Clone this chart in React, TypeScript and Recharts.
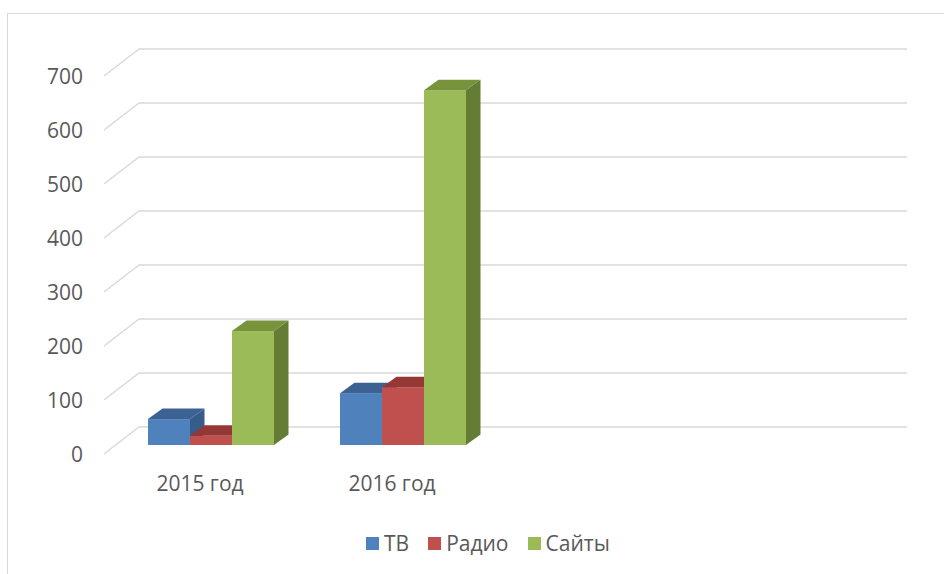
import React from 'react';
import { BarChart, Bar, XAxis, YAxis, CartesianGrid, Legend } from 'recharts';

const categories = ['2015 год', '2016 год', '', ''];
const tvValues = [48, 96, null, null];
const radioValues = [17, 107, null, null];
const siteValues = [211, 657, null, null];
const yTicks = [0, 100, 200, 300, 400, 500, 600, 700];

const seriesKeys = ['tv', 'radio', 'sites'];
const seriesNames = { tv: 'ТВ', radio: 'Радио', sites: 'Сайты' };

const data = categories.map((name, i) => ({
  name,
  tv: tvValues[i],
  radio: radioValues[i],
  sites: siteValues[i],
}));

const FONT = '"Open Sans", "Noto Sans", sans-serif';
const TEXT = '#595959';
const GRID = '#d9d9d9';

// oblique projection offsets relative to the bar-front plane
const BACK_DX = 23.5;
const BACK_DY = -18;
const FRONT_DX = -11.5;
const FRONT_DY = 9;
const BAR_DX = 14.5;
const BAR_DY = -10.5;

const makeShape = (dataKey: string, top: string, side: string) => (props: any) => {
  const { x, y, width, height, fill, payload } = props;
  if (!payload || payload[dataKey] == null) return <g />;
  const x2 = x + width;
  const y2 = y + height;
  return (
    <g>
      <rect x={x} y={y} width={width} height={height} fill={fill} />
      <polygon
        points={`${x},${y} ${x + BAR_DX},${y + BAR_DY} ${x2 + BAR_DX},${y + BAR_DY} ${x2},${y}`}
        fill={top}
      />
      <polygon
        points={`${x2},${y} ${x2 + BAR_DX},${y + BAR_DY} ${x2 + BAR_DX},${y2 + BAR_DY} ${x2},${y2}`}
        fill={side}
      />
    </g>
  );
};

const gridLine = (props: any) => {
  const { x1, x2, y1, index } = props;
  return (
    <g key={`grid-${index}-${y1}`}>
      <line
        x1={x1 + FRONT_DX}
        y1={y1 + FRONT_DY}
        x2={x1 + BACK_DX}
        y2={y1 + BACK_DY}
        stroke={GRID}
        strokeWidth={1.5}
      />
      <line
        x1={x1 + BACK_DX}
        y1={y1 + BACK_DY}
        x2={x2 + BACK_DX}
        y2={y1 + BACK_DY}
        stroke={GRID}
        strokeWidth={1.5}
      />
    </g>
  );
};

const YTick = (props: any) => {
  const { y, payload } = props;
  return (
    <text x={83} y={y + FRONT_DY + 8} textAnchor="end" fill={TEXT} fontFamily={FONT} fontSize={21}>
      {payload.value}
    </text>
  );
};

const XTick = (props: any) => {
  const { x, payload } = props;
  if (!payload.value) return <g />;
  return (
    <text x={x + FRONT_DX} y={491} textAnchor="middle" fill={TEXT} fontFamily={FONT} fontSize={21}>
      {payload.value}
    </text>
  );
};

const LegendContent = (props: any) => {
  const payload = [...(props.payload || [])].sort(
    (a: any, b: any) => seriesKeys.indexOf(a.dataKey) - seriesKeys.indexOf(b.dataKey)
  );
  return (
    <div
      style={{
        display: 'flex',
        alignItems: 'center',
        fontFamily: FONT,
        fontSize: 21,
        lineHeight: '26px',
        color: TEXT,
        whiteSpace: 'nowrap',
      }}
    >
      {payload.map((p: any) => (
        <span key={p.value} style={{ display: 'flex', alignItems: 'center', marginRight: 19 }}>
          <span style={{ display: 'inline-block', width: 13, height: 13, background: p.color, marginRight: 5 }} />
          {p.value}
        </span>
      ))}
    </div>
  );
};

export default function App() {
  return (
    <div
      style={{
        position: 'absolute',
        left: 0,
        top: 0,
        width: 944,
        height: 574,
        overflow: 'hidden',
        background: '#ffffff',
      }}
    >
      <div
        style={{
          position: 'absolute',
          left: 7,
          top: 13,
          width: 1200,
          height: 1200,
          border: '1.5px solid #d9d9d9',
          boxSizing: 'border-box',
        }}
      />
      <BarChart
        width={944}
        height={574}
        data={data}
        margin={{ top: 67, right: 60.5, bottom: 89, left: 55.5 }}
        barCategoryGap={32.5}
        barGap={0}
      >
        <CartesianGrid vertical={false} horizontal={gridLine} stroke={GRID} />
        <XAxis
          dataKey="name"
          height={40}
          axisLine={false}
          tickLine={false}
          tick={XTick}
          interval={0}
        />
        <YAxis
          width={60}
          domain={[0, 700]}
          ticks={yTicks}
          axisLine={false}
          tickLine={false}
          tick={YTick}
          interval={0}
        />
        <Legend
          layout="horizontal"
          verticalAlign="middle"
          align="center"
          wrapperStyle={{ left: 366, top: 530, width: 400, height: 26 }}
          content={LegendContent}
        />
        <Bar
          dataKey="tv"
          name={seriesNames.tv}
          fill="#4F81BD"
          isAnimationActive={false}
          shape={makeShape('tv', '#3C6294', '#365D8A')}
        />
        <Bar
          dataKey="radio"
          name={seriesNames.radio}
          fill="#C0504D"
          isAnimationActive={false}
          shape={makeShape('radio', '#953735', '#8C3331')}
        />
        <Bar
          dataKey="sites"
          name={seriesNames.sites}
          fill="#9BBB59"
          isAnimationActive={false}
          shape={makeShape('sites', '#77933C', '#647C33')}
        />
      </BarChart>
    </div>
  );
}
